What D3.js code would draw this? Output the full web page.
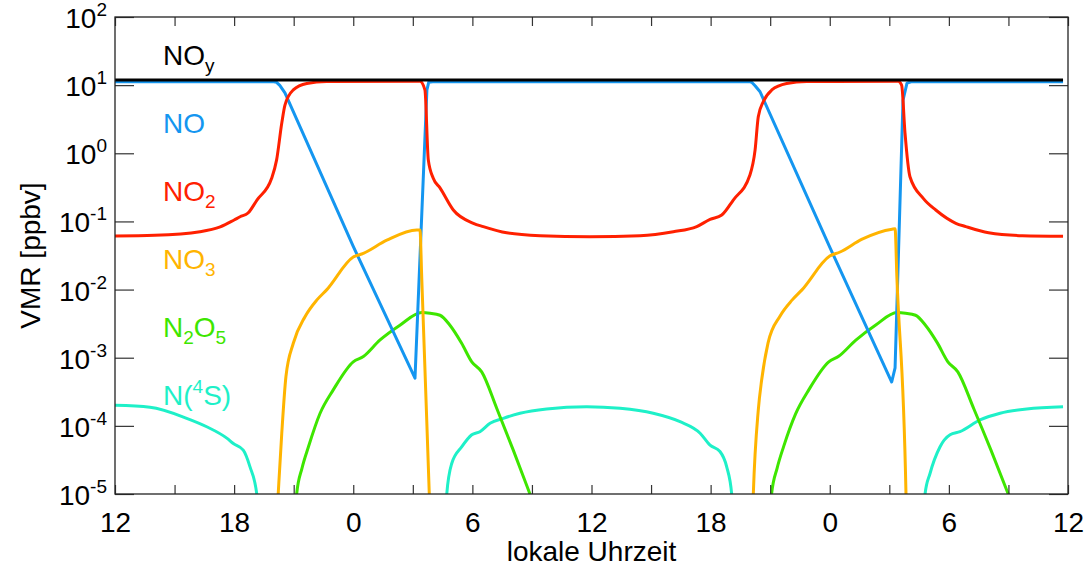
<!DOCTYPE html>
<html>
<head>
<meta charset="utf-8">
<script src="https://cdn.jsdelivr.net/npm/d3@7"></script>
<style>
  html, body { margin: 0; padding: 0; background: #fff; }
  svg { display: block; font-family: "Liberation Sans", Arial, Helvetica, sans-serif; }
</style>
</head>
<body>
<svg id="chart" width="1091" height="567"></svg>
<script>
// Time is counted in hours since the first local noon (0 … 48 h).
const tickHours = d3.range(0, 49, 3);
const labelHours = d3.range(0, 49, 6);
const hourLabels = ["12", "18", "0", "6", "12", "18", "0", "6", "12"];
const decades = [-5, -4, -3, -2, -1, 0, 1, 2];

// Volume mixing ratios in ppbv, [hour, value]; 0 marks "below range" gaps.
const NOy = [[0, 11.9], [12, 11.9], [24, 11.9], [36, 11.9], [47.75, 11.9]];

const NO = [
  [0, 11.2], [8.0, 11.2], [8.14, 11.0], [8.3, 9.9], [8.56, 7.7], [12.0, 0.043], [15.11, 5.0e-4],
  [15.71, 8.5], [15.8, 11.0], [16.0, 11.2], [32.0, 11.2], [32.07, 11.0], [32.25, 9.7], [32.49, 8.0],
  [36.0, 0.042], [39.12, 4.4e-4], [39.29, 7.1e-4], [39.69, 6.0], [39.89, 10.7],
  [40.1, 11.2], [47.75, 11.2]
];

const NO2 = [
  [0, 0.061], [2.0, 0.0625], [4.28, 0.0706], [5.3, 0.083], [6.0, 0.105], [6.30, 0.117],
  [6.70, 0.133], [7.15, 0.206], [7.89, 0.43], [8.14, 0.80], [8.40, 2.78], [8.56, 5.1],
  [8.98, 8.5], [9.66, 10.6], [10.66, 11.3], [15.36, 11.4], [15.61, 8.5], [15.78, 0.80],
  [16.03, 0.43], [16.37, 0.31], [17.04, 0.147], [18.05, 0.094], [18.55, 0.084],
  [19.73, 0.068], [21.41, 0.0617], [23.92, 0.0597], [26.44, 0.0617], [28.12, 0.0706],
  [29.30, 0.084], [29.97, 0.107], [30.56, 0.124], [31.14, 0.206], [31.98, 0.48],
  [32.24, 1.12], [32.40, 3.44], [32.65, 5.7], [33.08, 8.5], [33.83, 10.6], [34.84, 11.3],
  [39.45, 11.4], [39.62, 10.0], [39.79, 1.99], [40.04, 0.453], [40.71, 0.218],
  [41.34, 0.147], [42.35, 0.094], [42.85, 0.084], [44.0, 0.068], [45.7, 0.0617],
  [47.75, 0.0605]
];

const NO3 = [
  [8.03, 1e-6], [8.22, 1e-5], [8.40, 7.8e-5], [8.61, 5.3e-4], [8.98, 1.63e-3],
  [9.57, 4.0e-3], [10.16, 7.0e-3], [10.66, 9.9e-3], [12.0, 0.030], [12.51, 0.034],
  [13.69, 0.053], [15.20, 0.075], [15.36, 0.075], [15.45, 0.0148], [15.83, 1e-5], [15.95, 1e-6],
  [16.0, 0], [32.0, 0],
  [32.05, 1e-6], [32.15, 1e-5], [32.40, 1.7e-4], [32.57, 4.7e-4], [32.89, 1.64e-3],
  [33.50, 4.1e-3], [34.10, 7.0e-3], [34.60, 9.9e-3], [36.0, 0.031], [36.52, 0.0356],
  [37.63, 0.055], [39.14, 0.077], [39.29, 0.078], [39.38, 0.0155], [39.84, 1e-5], [39.9, 1e-6]
];

const N2O5 = [
  [8.97, 1e-6], [9.15, 1e-5], [9.42, 2.4e-5], [9.74, 4.9e-5], [10.33, 1.53e-4],
  [11.0, 3.4e-4], [12.0, 8.7e-4], [12.51, 1.04e-3], [13.35, 1.82e-3], [14.35, 3.0e-3],
  [15.45, 4.6e-3], [15.87, 4.5e-3], [16.37, 4.2e-3], [16.87, 3.0e-3], [17.46, 1.63e-3],
  [17.97, 8.7e-4], [18.47, 6.2e-4], [19.23, 1.8e-4], [20.06, 4.4e-5], [20.90, 1e-5],
  [22.2, 1e-6], [22.3, 0], [32.8, 0],
  [32.89, 1e-6], [33.07, 1e-5], [33.35, 2.4e-5], [33.68, 5.0e-5], [34.28, 1.5e-4],
  [34.95, 3.4e-4], [35.95, 8.7e-4], [36.45, 1.05e-3], [37.30, 1.8e-3], [38.30, 3.0e-3],
  [39.39, 4.6e-3], [39.82, 4.5e-3], [40.32, 4.2e-3], [40.82, 3.0e-3], [41.42, 1.65e-3],
  [41.95, 8.7e-4], [42.45, 6.2e-4], [43.25, 1.8e-4], [44.12, 4.4e-5], [44.99, 1e-5],
  [46.3, 1e-6]
];

const N4S = [
  [0, 2.0e-4], [1.76, 1.87e-4], [3.61, 1.29e-4], [4.62, 9.7e-5], [5.63, 6.6e-5],
  [5.96, 5.5e-5], [6.46, 4.4e-5], [6.80, 2.5e-5], [7.14, 1e-5], [7.35, 1e-6],
  [7.4, 0], [16.6, 0],
  [16.62, 1e-6], [16.71, 1e-5], [16.96, 2.8e-5], [17.46, 4.9e-5], [17.97, 7.4e-5],
  [18.38, 8.2e-5], [18.89, 1.09e-4], [19.56, 1.29e-4], [20.40, 1.53e-4], [21.74, 1.77e-4],
  [23.76, 1.91e-4], [25.44, 1.81e-4], [27.11, 1.53e-4], [28.46, 1.15e-4], [29.47, 7.8e-5],
  [29.97, 5.2e-5], [30.47, 4.2e-5], [30.81, 2.5e-5], [31.06, 1e-5], [31.2, 1e-6],
  [31.3, 0], [40.6, 0],
  [40.70, 1e-6], [40.80, 1e-5], [41.05, 2.0e-5], [41.55, 4.9e-5], [42.06, 7.4e-5],
  [42.56, 8.2e-5], [43.57, 1.22e-4], [44.58, 1.53e-4], [45.92, 1.77e-4], [47.75, 1.91e-4]
];

// Drawing order: first entry lies underneath. NO keeps straight segments.
const series = [
  { key: "N4S", data: N4S, color: "#1ef0c8", smooth: true },
  { key: "N2O5", data: N2O5, color: "#3ee600", smooth: true },
  { key: "NO", data: NO, color: "#1496f0", smooth: false },
  { key: "NO2", data: NO2, color: "#ff2000", smooth: true },
  { key: "NO3", data: NO3, color: "#ffb400", smooth: true },
  { key: "NOy", data: NOy, color: "#000000", smooth: false }
];

// Legend labels as [text, role] pieces; role "sub" / "sup" shifts the piece.
const legendLabels = [
  { parts: [["NO", ""], ["y", "sub"]], color: "#000000" },
  { parts: [["NO", ""]], color: "#1496f0" },
  { parts: [["NO", ""], ["2", "sub"]], color: "#ff2000" },
  { parts: [["NO", ""], ["3", "sub"]], color: "#ffb400" },
  { parts: [["N", ""], ["2", "sub"], ["O", ""], ["5", "sub"]], color: "#3ee600" },
  { parts: [["N(", ""], ["4", "sup"], ["S)", ""]], color: "#1ef0c8" }
];

const svg = d3.select("#chart");
const plotLeft = 115, plotRight = 1068, plotTop = 17, plotBottom = 494;
const fontSize = 28, smallSize = 19;

const x = d3.scaleLinear().domain([0, 48]).range([plotLeft, plotRight]);
const y = d3.scaleLog().domain([1e-5, 1e2]).range([plotBottom, plotTop]);

svg.append("defs").append("clipPath").attr("id", "plotClip")
  .append("rect").attr("x", plotLeft).attr("y", plotTop)
  .attr("width", plotRight - plotLeft).attr("height", plotBottom - plotTop);

// Data lines
const lineFor = s => d3.line()
  .defined(d => d[1] > 0)
  .curve(s.smooth ? d3.curveMonotoneX : d3.curveLinear)
  .x(d => x(d[0]))
  .y(d => y(d[1]));

svg.append("g").attr("clip-path", "url(#plotClip)")
  .selectAll("path").data(series).join("path")
  .attr("d", d => lineFor(d)(d.data))
  .attr("fill", "none")
  .attr("stroke", d => d.color)
  .attr("stroke-width", 3)
  .attr("stroke-linejoin", "round");

// Axes with inward ticks
const tickColor = "#333";
const xb = svg.append("g").attr("transform", `translate(0,${plotBottom})`)
  .call(d3.axisBottom(x).tickValues(tickHours).tickSizeInner(-9).tickSizeOuter(0)
    .tickPadding(18)
    .tickFormat(h => { const i = labelHours.indexOf(h); return i >= 0 ? hourLabels[i] : ""; }));
const xt = svg.append("g").attr("transform", `translate(0,${plotTop})`)
  .call(d3.axisTop(x).tickValues(tickHours).tickSizeInner(-9).tickSizeOuter(0).tickFormat(""));
const yl = svg.append("g").attr("transform", `translate(${plotLeft},0)`)
  .call(d3.axisLeft(y).tickValues(decades.map(e => Math.pow(10, e)))
    .tickSizeInner(-19).tickSizeOuter(0).tickFormat(""));
const yr = svg.append("g").attr("transform", `translate(${plotRight},0)`)
  .call(d3.axisRight(y).tickValues(decades.map(e => Math.pow(10, e)))
    .tickSizeInner(-19).tickSizeOuter(0).tickFormat(""));

[xb, xt, yl, yr].forEach(g => {
  g.select(".domain").remove();
  g.selectAll(".tick line").attr("stroke", tickColor).attr("stroke-width", 1.2);
});
xb.selectAll(".tick text")
  .attr("font-size", fontSize).attr("font-family", "Liberation Sans, Arial, sans-serif")
  .attr("fill", "#000");

// Frame
svg.append("rect").attr("x", plotLeft).attr("y", plotTop)
  .attr("width", plotRight - plotLeft).attr("height", plotBottom - plotTop)
  .attr("fill", "none").attr("stroke", "#222").attr("stroke-width", 1.3);

// Decade labels 10^n
const yLab = svg.append("g").selectAll("text").data(decades).join("text")
  .attr("x", 107)
  .attr("y", e => y(Math.pow(10, e)) + 11)
  .attr("text-anchor", "end")
  .attr("font-size", fontSize)
  .attr("fill", "#000");
yLab.append("tspan").text("10");
yLab.append("tspan").attr("dy", -12).attr("font-size", smallSize).text(e => String(e));

// Axis titles
svg.append("text")
  .attr("x", (plotLeft + plotRight) / 2).attr("y", 561)
  .attr("text-anchor", "middle").attr("font-size", fontSize).attr("fill", "#000")
  .text("lokale Uhrzeit");
svg.append("text")
  .attr("transform", `translate(40,${(plotTop + plotBottom) / 2}) rotate(-90)`)
  .attr("text-anchor", "middle").attr("font-size", fontSize).attr("fill", "#000")
  .text("VMR [ppbv]");

// Species labels stacked down the left side of the plot
const leg = svg.append("g").selectAll("text").data(legendLabels).join("text")
  .attr("x", 163)
  .attr("y", (d, i) => 65 + i * 68)
  .attr("font-size", fontSize)
  .attr("fill", d => d.color);
leg.each(function (d) {
  const t = d3.select(this);
  let shift = 0;
  d.parts.forEach(([txt, role]) => {
    const target = role === "sub" ? 7 : role === "sup" ? -12 : 0;
    t.append("tspan")
      .attr("dy", target - shift)
      .attr("font-size", role ? smallSize : fontSize)
      .text(txt);
    shift = target;
  });
});
</script>
</body>
</html>
